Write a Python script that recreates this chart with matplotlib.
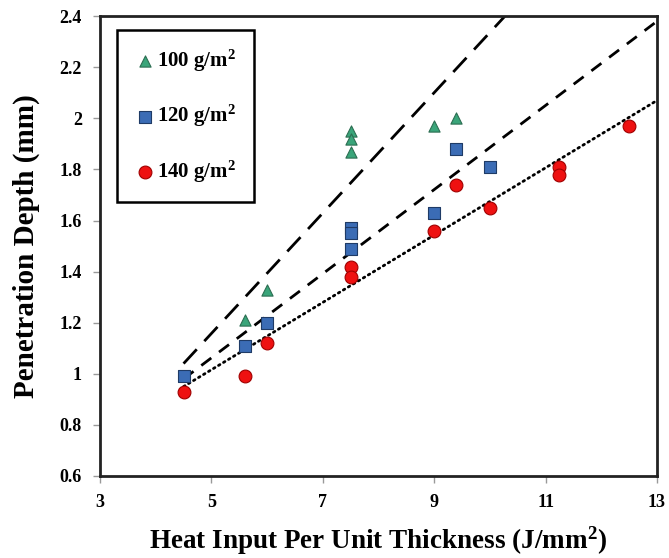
import matplotlib.pyplot as plt

plt.rcParams["font.family"] = ["Liberation Serif", "DejaVu Serif"]
plt.rcParams["font.weight"] = "bold"
plt.rcParams["mathtext.fontset"] = "custom"
plt.rcParams["mathtext.rm"] = "Liberation Serif:bold"
plt.rcParams["mathtext.it"] = "Liberation Serif:bold"
plt.rcParams["mathtext.bf"] = "Liberation Serif:bold"

# 100 g/m2
x100 = [5.6, 6.0, 7.5, 7.5, 7.5, 9.0, 9.4]
y100 = [1.21, 1.33, 1.95, 1.92, 1.87, 1.97, 2.00]

# 120 g/m2
x120 = [4.5, 5.6, 6.0, 7.5, 7.5, 7.5, 9.0, 9.4, 10.0]
y120 = [0.99, 1.11, 1.20, 1.57, 1.55, 1.49, 1.63, 1.88, 1.81]

# 140 g/m2
x140 = [4.5, 5.6, 6.0, 7.5, 7.5, 9.0, 9.4, 10.0, 11.25, 11.25, 12.5]
y140 = [0.93, 0.99, 1.12, 1.42, 1.38, 1.56, 1.74, 1.65, 1.81, 1.78, 1.97]

# trend lines (start / end values)
trend100_x = [4.5, 10.27]
trend100_y = [1.04, 2.40]
trend120_x = [4.5, 13.0]
trend120_y = [0.98, 2.38]
trend140_x = [4.5, 13.0]
trend140_y = [0.95, 2.07]

xticks = [3, 5, 7, 9, 11, 13]
yticks = [0.6, 0.8, 1.0, 1.2, 1.4, 1.6, 1.8, 2.0, 2.2, 2.4]
ytick_labels = ["0.6", "0.8", "1", "1.2", "1.4", "1.6", "1.8", "2", "2.2", "2.4"]

fig = plt.figure(figsize=(6.69, 5.58), dpi=100)
ax = fig.add_axes([0.1495, 0.147, 0.8325, 0.824])

ax.plot(trend100_x, trend100_y, color="black", lw=2, linestyle=(0, (7, 4)))
ax.plot(trend120_x, trend120_y, color="black", lw=2, linestyle=(0, (4.5, 3.5)))
ax.plot(trend140_x, trend140_y, color="black", lw=2, linestyle=(0, (0.6, 1.5)),
        dash_capstyle="round")

ax.scatter(x100, y100, marker="^", s=65, color="#3aa57a", edgecolor="#2c6e52",
           linewidths=0.8, zorder=3, label="100 g/m$^2$")
ax.scatter(x120, y120, marker="s", s=75, color="#3b6cb5", edgecolor="#1f3b66",
           linewidths=0.8, zorder=3, label="120 g/m$^2$")
ax.scatter(x140, y140, marker="o", s=85, color="#ee1111", edgecolor="#a00000",
           linewidths=0.8, zorder=3, label="140 g/m$^2$")

ax.set_xlim(3, 13)
ax.set_ylim(0.6, 2.4)
ax.set_xticks(xticks)
ax.set_yticks(yticks)
ax.set_yticklabels(ytick_labels)
ax.tick_params(direction="out", length=5, width=1, color="#999999",
               labelsize=13, pad=8)
for lab in ax.get_xticklabels() + ax.get_yticklabels():
    lab.set_fontweight("bold")
for sp in ax.spines.values():
    sp.set_linewidth(2)
    sp.set_color("#222222")

ax.set_xlabel("Heat Input Per Unit Thickness (J/mm$^2$)", fontsize=19.5,
              fontweight="bold", labelpad=10)
ax.set_ylabel("Penetration Depth (mm)", fontsize=21, fontweight="bold",
              labelpad=14)

leg = ax.legend(loc="upper left", bbox_to_anchor=(0.031, 0.970), fontsize=15,
                frameon=True, fancybox=False, handletextpad=0.05,
                labelspacing=1.4, borderpad=0.85, handlelength=1.0,
                borderaxespad=0, framealpha=1)
leg.get_frame().set_edgecolor("black")
leg.get_frame().set_linewidth(1.8)
for t in leg.get_texts():
    t.set_fontweight("bold")

fig.savefig("out.png", dpi=100)
